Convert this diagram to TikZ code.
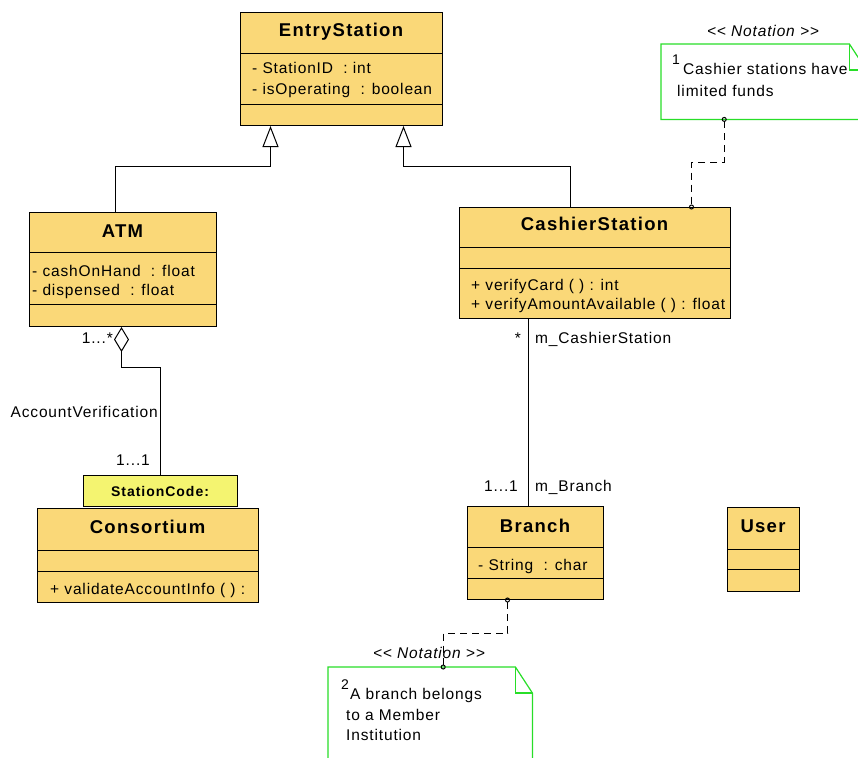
\documentclass[tikz,border=0pt]{standalone}
\usepackage{fontspec}
\usetikzlibrary{arrows.meta}
\newfontfamily\umlfont[LetterSpace=5.5]{Liberation Sans}
\newfontfamily\umltitlefont[LetterSpace=7]{Liberation Sans}
\definecolor{classfill}{RGB}{250,216,120}
\definecolor{keyfill}{RGB}{244,244,112}
\definecolor{notegreen}{RGB}{40,222,40}

\begin{document}
\begin{tikzpicture}[x=1pt, y=-1pt,
    class/.style={draw=black, line width=1pt, fill=classfill, anchor=north west, inner sep=0pt},
    title/.style={anchor=base, inner sep=0pt, font=\umltitlefont\bfseries\fontsize{18.5}{18.5}\selectfont},
    member/.style={anchor=base west, inner sep=0pt, font=\umlfont\fontsize{15.5}{15.5}\selectfont},
    stereo/.style={anchor=base, inner sep=0pt, font=\umlfont\itshape\fontsize{15.5}{15.5}\selectfont},
    notenum/.style={anchor=base west, inner sep=0pt, font=\umlfont\fontsize{14}{14}\selectfont},
    notebox/.style={anchor=north west, inner sep=0pt},
    noteedge/.style={draw=notegreen, line width=1.2pt},
    generalization/.style={draw, line width=1pt, -{Triangle[open, width=16pt, length=21pt]}},
    aggregation/.style={draw, line width=1pt, -{Diamond[open, width=15pt, length=25pt]}},
    association/.style={draw, line width=1pt},
    noteline/.style={draw, line width=1pt, dash pattern=on 7pt off 5pt,
        {Circle[open, length=5pt, width=5pt]}-{Circle[open, length=5pt, width=5pt]},
        shorten <=-2.5pt, shorten >=-2.5pt}]

    \useasboundingbox (0,0) rectangle (858,757);
    \fill[white] (0,0) rectangle (858,757);
    \clip (0,0) rectangle (858,757);

    % classes
    \node[class, minimum width=202pt, minimum height=113pt] (entry) at (240,12) {};
    \draw (240,53) -- (442,53);
    \draw (240,104) -- (442,104);
    \node[title] (entry-name) at (341,37) {EntryStation};
    \node[member] (entry-a1) at (252,74) {- StationID\ \ : int};
    \node[member] (entry-a2) at (252,95) {- isOperating\ \ : boolean};

    \node[class, minimum width=187pt, minimum height=114pt] (atm) at (29,212) {};
    \draw (29,252) -- (216,252);
    \draw (29,304) -- (216,304);
    \node[title] (atm-name) at (122.5,237) {ATM};
    \node[member] (atm-a1) at (32,276) {- cashOnHand\ \ : float};
    \node[member] (atm-a2) at (32,295) {- dispensed\ \ : float};

    \node[class, minimum width=271pt, minimum height=111pt] (cashier) at (459,207) {};
    \draw (459,247) -- (730,247);
    \draw (459,268) -- (730,268);
    \node[title] (cashier-name) at (594.5,230) {CashierStation};
    \node[member] (cashier-o1) at (471,290) {+ verifyCard ( ) : int};
    \node[member] (cashier-o2) at (471,309) {+ verifyAmountAvailable ( ) : float};

    \node[class, fill=keyfill, minimum width=154pt, minimum height=31pt] (keybox) at (83,475) {};
    \node[title, font=\umltitlefont\bfseries\fontsize{14}{14}\selectfont] (keybox-name) at (160,496) {StationCode:};

    \node[class, minimum width=221pt, minimum height=94pt] (consortium) at (37,508) {};
    \draw (37,550) -- (258,550);
    \draw (37,571) -- (258,571);
    \node[title] (consortium-name) at (147.5,533) {Consortium};
    \node[member] (consortium-o1) at (50,594) {+ validateAccountInfo ( ) :};

    \node[class, minimum width=136pt, minimum height=93pt] (branch) at (467,506) {};
    \draw (467,547) -- (603,547);
    \draw (467,578) -- (603,578);
    \node[title] (branch-name) at (535,532) {Branch};
    \node[member] (branch-a1) at (478,570) {- String\ \ : char};

    \node[class, minimum width=72pt, minimum height=84pt] (user) at (727,507) {};
    \draw (727,549) -- (799,549);
    \draw (727,569) -- (799,569);
    \node[title] (user-name) at (763,532) {User};

    % notes
    \node[notebox, minimum width=205pt, minimum height=75pt] (noteA) at (661,44) {};
    \draw[noteedge] (noteA.north west) -- ([xshift=-17pt]noteA.north east)
        -- ([yshift=-26pt]noteA.north east) -- (noteA.south east) -- (noteA.south west) -- cycle;
    \draw[noteedge] ([xshift=-17pt]noteA.north east) |- ([yshift=-26pt]noteA.north east);
    \node[stereo] (noteA-st) at (763,37) {<{}< Notation >{}>};
    \node[notenum] (noteA-n) at (672,65) {1};
    \node[member] (noteA-l1) at (683,75) {Cashier stations have};
    \node[member] (noteA-l2) at (677,97) {limited funds};

    \node[notebox, minimum width=204pt, minimum height=120pt] (noteB) at (328,667) {};
    \draw[noteedge] (noteB.north west) -- ([xshift=-17pt]noteB.north east)
        -- ([yshift=-26pt]noteB.north east) -- (noteB.south east) -- (noteB.south west) -- cycle;
    \draw[noteedge] ([xshift=-17pt]noteB.north east) |- ([yshift=-26pt]noteB.north east);
    \node[stereo] (noteB-st) at (429,658) {<{}< Notation >{}>};
    \node[notenum] (noteB-n) at (341,689) {2};
    \node[member] (noteB-l1) at (350,699) {A branch belongs};
    \node[member] (noteB-l2) at (346,720) {to a Member};
    \node[member] (noteB-l3) at (346,740) {Institution};

    % connectors
    \draw[generalization] ([xshift=-7.5pt]atm.north) -- ++(0,-46) -| ([xshift=-71pt]entry.south);
    \draw[generalization] ([xshift=-24.5pt]cashier.north) -- ++(0,-41) -| ([xshift=62pt]entry.south);
    \draw[aggregation] (keybox.north) -- ++(0,-108) -| ([xshift=-1.5pt]atm.south);
    \draw[association] ([xshift=-66.5pt]cashier.south) -- ([xshift=-7pt]branch.north);
    \draw[noteline] ([xshift=-39.5pt]noteA.south) -- ++(0,43) -| ([xshift=96.5pt]cashier.north);
    \draw[noteline] ([xshift=-28pt]branch.south) -- ++(0,33) -| ([xshift=13pt]noteB.north);

    % connector labels
    \node[member, anchor=base east] (agg-mult) at (113,343) {1...*};
    \node[member, anchor=base east] (agg-name) at (158,417) {AccountVerification};
    \node[member, anchor=base east] (key-mult) at (150,465) {1...1};
    \node[member, anchor=base east] (cs-mult) at (521,343) {*};
    \node[member] (cs-role) at (535,343) {m\_CashierStation};
    \node[member, anchor=base east] (br-mult) at (518,491) {1...1};
    \node[member] (br-role) at (535,491) {m\_Branch};
\end{tikzpicture}
\end{document}
